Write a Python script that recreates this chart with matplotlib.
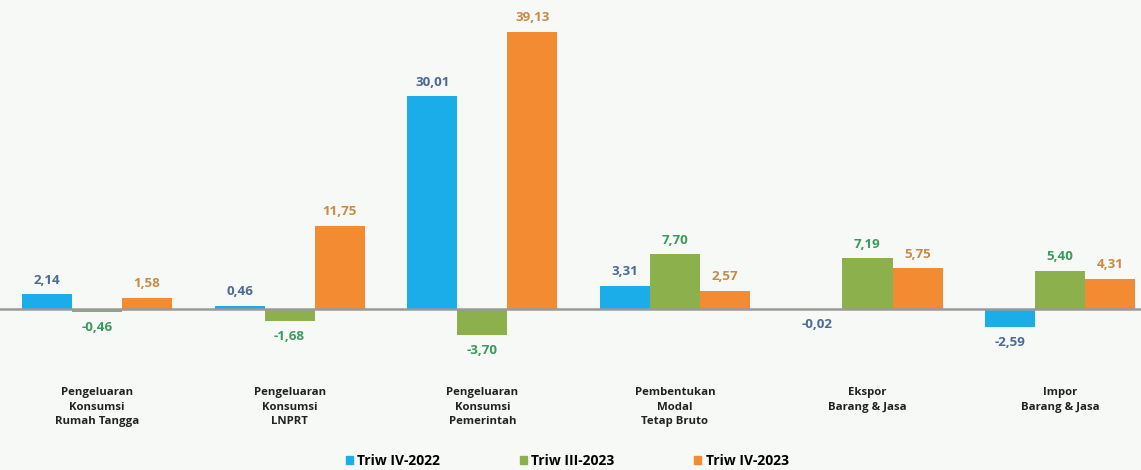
import matplotlib.pyplot as plt
import numpy as np
from matplotlib.patches import Patch

plt.rcParams['font.family'] = ['Open Sans', 'DejaVu Sans']

categories = ['Pengeluaran\nKonsumsi\nRumah Tangga',
              'Pengeluaran\nKonsumsi\nLNPRT',
              'Pengeluaran\nKonsumsi\nPemerintah',
              'Pembentukan\nModal\nTetap Bruto',
              'Ekspor\nBarang & Jasa',
              'Impor\nBarang & Jasa']
series_names = ['Triw IV-2022', 'Triw III-2023', 'Triw IV-2023']
triw_iv_2022 = [2.14, 0.46, 30.01, 3.31, -0.02, -2.59]
triw_iii_2023 = [-0.46, -1.68, -3.70, 7.70, 7.19, 5.40]
triw_iv_2023 = [1.58, 11.75, 39.13, 2.57, 5.75, 4.31]

bar_colors = ['#1badea', '#8cb04b', '#f38b32']
label_colors = ['#4c6a96', '#3b9a5c', '#c98a45']
bg = '#f6f9f6'

fig = plt.figure(figsize=(11.41, 4.70), dpi=100, facecolor=bg)
ax = fig.add_axes([0, 0, 1, 1])
ax.set_facecolor(bg)

x = np.arange(len(categories))
w = 0.26
all_series = [triw_iv_2022, triw_iii_2023, triw_iv_2023]
for i, vals in enumerate(all_series):
    pos = x + (i - 1) * w
    ax.bar(pos, vals, width=w, color=bar_colors[i], zorder=2)
    for px, v in zip(pos, vals):
        off = 10 if v >= 0 else -11
        ax.annotate(f'{v:.2f}'.replace('.', ','), (px, v), xytext=(0, off),
                    textcoords='offset points', ha='center', va='center',
                    fontsize=9.6, fontweight='bold', color=label_colors[i])

ax.axhline(0, color='#9a9a9a', lw=1.8, zorder=3)

for xi, cat in zip(x, categories):
    ax.text(xi, -11.0, cat, ha='center', va='top', fontsize=8.2,
            fontweight='bold', color='#222222', linespacing=1.45)

ax.set_xlim(-0.504, 5.42)
ax.set_ylim(-22.7, 43.6)
ax.axis('off')

handles = [Patch(color=c) for c in bar_colors]
fig.legend(handles, series_names, loc='center', bbox_to_anchor=(0.497, 0.019),
           ncol=3, frameon=False, handlelength=0.55, handleheight=0.55,
           handletextpad=0.3, columnspacing=5.7,
           prop={'weight': 'bold', 'size': 10})

fig.savefig('out.png', dpi=100, facecolor=bg)
